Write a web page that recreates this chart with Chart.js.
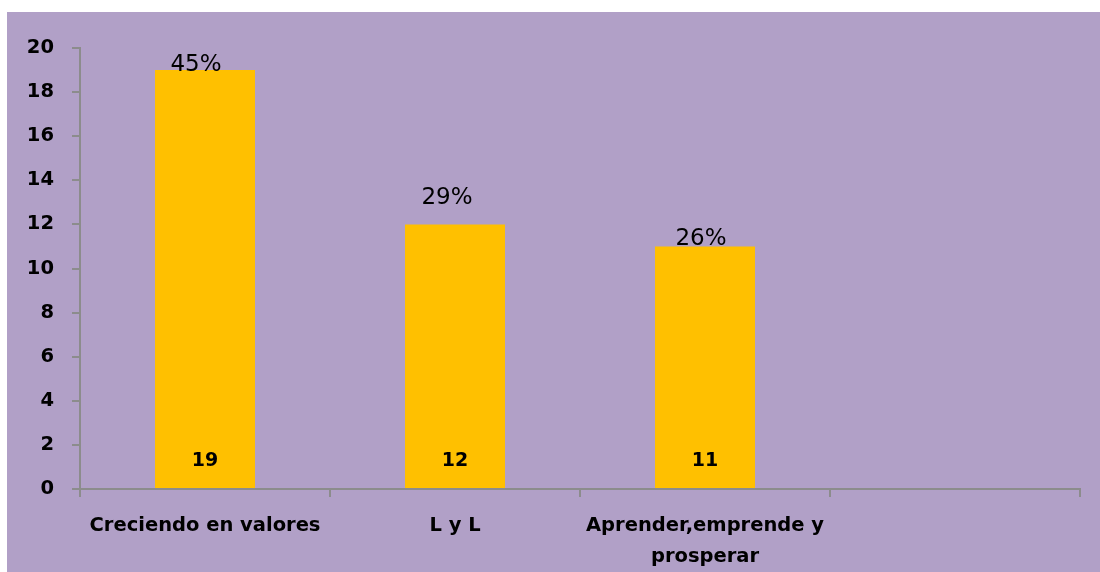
<!DOCTYPE html>
<html>
<head>
<meta charset="utf-8">
<script src="https://cdn.jsdelivr.net/npm/chart.js@4.4.1/dist/chart.umd.min.js"></script>
<style>
  body { margin: 0; background: #ffffff; }
  #wrap { position: absolute; left: 7px; top: 12px; width: 1093px; height: 560px; background: #B1A0C7; }
</style>
</head>
<body>
<div id="wrap"><canvas id="myBarChart"></canvas></div>
<script>
// Data
var categories = ["Creciendo en valores", "L y L", ["Aprender,emprende y", "prosperar"], ""];
var values = [19, 12, 11, null];
var percents = ["45%", "29%", "26%"];
var yTicks = [0, 2, 4, 6, 8, 10, 12, 14, 16, 18, 20];

// Labels on bars
var barLabels = {
  id: 'barLabels',
  afterDatasetsDraw: function(chart, args, opts) {
    var ctx = chart.ctx;
    var meta = chart.getDatasetMeta(0);
    ctx.save();
    ctx.fillStyle = '#000000';
    ctx.textAlign = 'center';
    meta.data.forEach(function(bar, i) {
      if (values[i] === null) return;
      // value inside bar
      ctx.font = 'bold 19px "DejaVu Sans"';
      ctx.textBaseline = 'middle';
      ctx.fillText(String(values[i]), bar.x, bar.base - 27);
      // percent above bar
      ctx.font = '23px "DejaVu Sans"';
      ctx.textBaseline = 'alphabetic';
      ctx.fillText(percents[i], bar.x + opts.dx[i], bar.y + opts.dy[i]);
    });
    ctx.restore();
  }
};

var ctx = document.getElementById('myBarChart').getContext('2d');
var myBarChart = new Chart(ctx, {
  type: 'bar',
  data: {
    labels: categories,
    datasets: [{
      backgroundColor: '#FFC000',
      borderWidth: 0,
      data: values,
      barPercentage: 0.4,
      categoryPercentage: 1
    }]
  },
  plugins: [barLabels],
  options: {
    responsive: true,
    maintainAspectRatio: false,
    animation: false,
    layout: {
      padding: { top: 36, right: 20, left: 0, bottom: 0 }
    },
    plugins: {
      legend: { display: false },
      tooltip: { enabled: false },
      barLabels: { dx: [-9, -8, -4], dy: [1, -20, -1] }
    },
    scales: {
      x: {
        offset: true,
        grid: { offset: true, drawOnChartArea: false, drawTicks: true, tickLength: 8, color: '#8c8c8c', lineWidth: 2 },
        border: { color: '#8c8c8c', width: 2 },
        ticks: {
          color: '#000000',
          padding: 13,
          maxRotation: 0,
          autoSkip: false,
          font: { family: 'DejaVu Sans', size: 19.5, weight: 'bold', lineHeight: 1.6 }
        },
        afterFit: function(scale) { scale.height = 83; }
      },
      y: {
        min: 0,
        max: 20,
        afterBuildTicks: function(scale) {
          scale.ticks = yTicks.map(function(v) { return { value: v }; });
        },
        grid: { drawOnChartArea: false, drawTicks: true, tickLength: 8, color: '#8c8c8c', lineWidth: 2 },
        border: { color: '#8c8c8c', width: 2 },
        ticks: {
          color: '#000000',
          padding: 18,
          font: { family: 'DejaVu Sans', size: 19.5, weight: 'bold' }
        },
        afterFit: function(scale) { scale.width = 73; }
      }
    }
  }
});
</script>
</body>
</html>
